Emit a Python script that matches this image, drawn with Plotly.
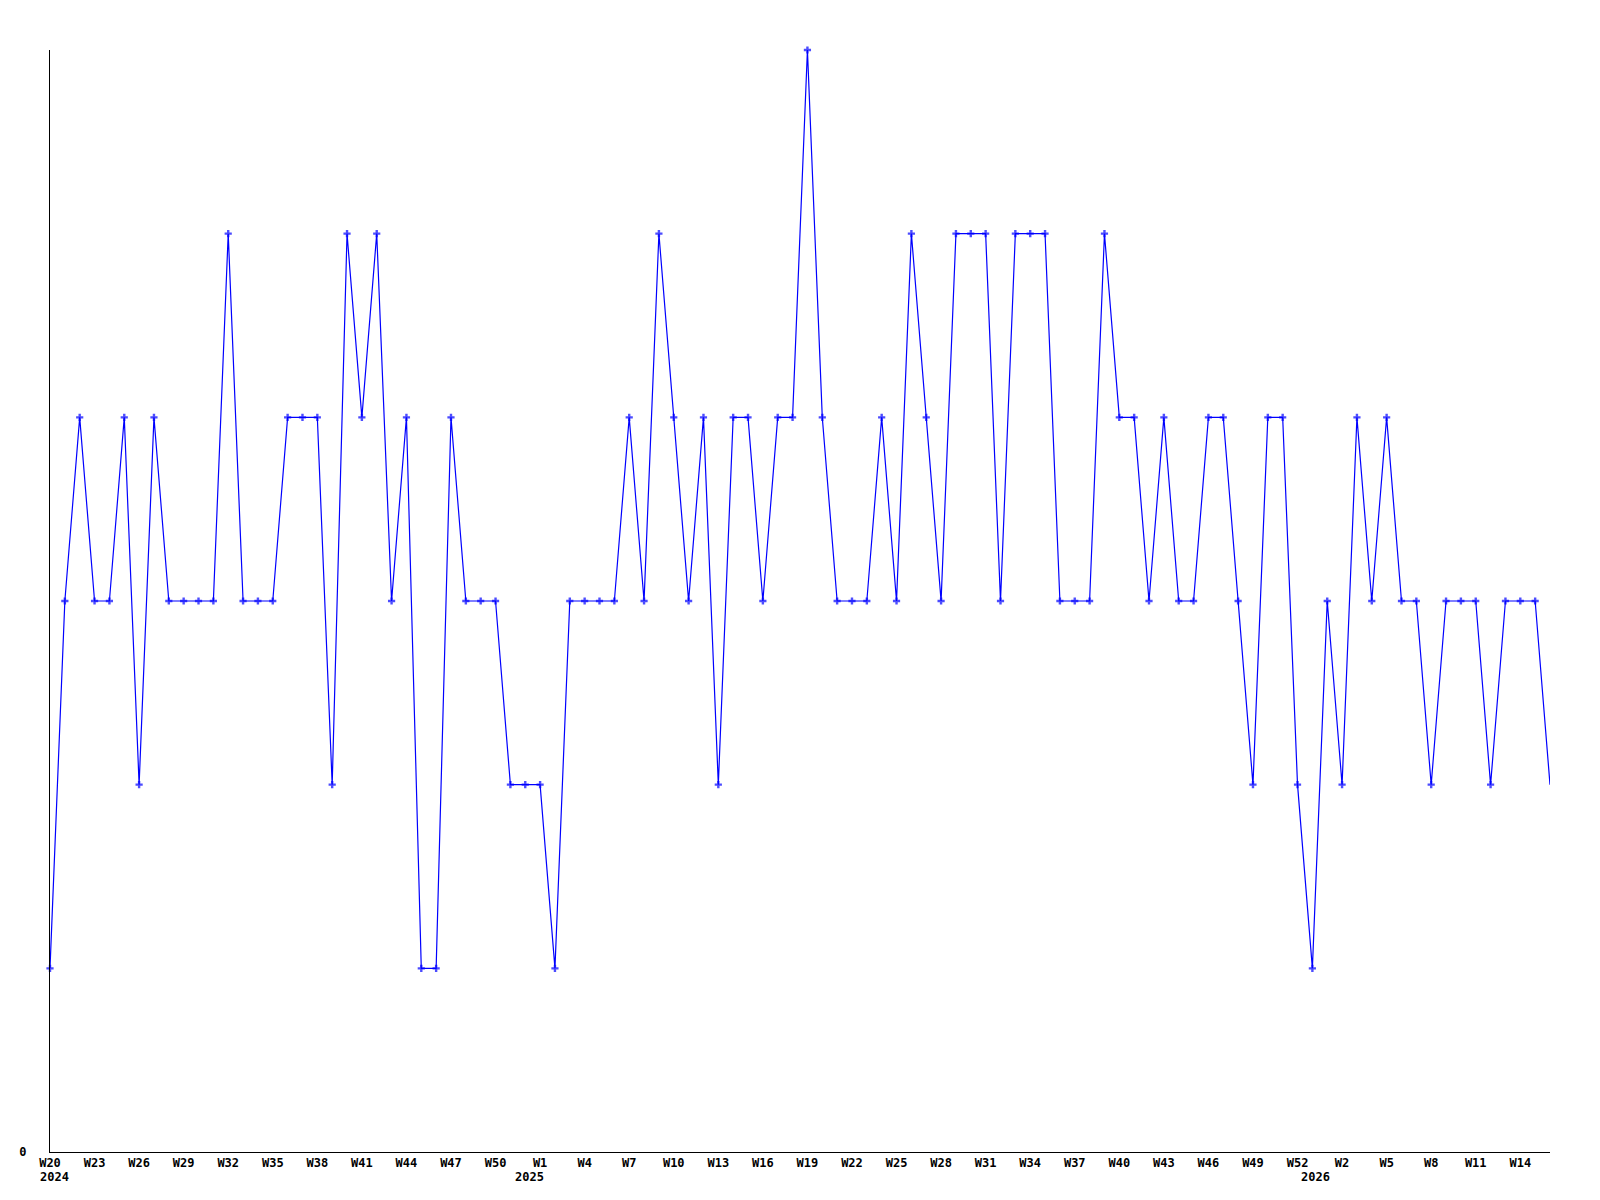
import plotly.graph_objects as go

# Weekly values, 2024-W20 .. 2026 (102 weeks)
values = [1, 3, 4, 3, 3, 4, 2, 4, 3, 3, 3, 3, 5, 3, 3, 3, 4, 4, 4, 2,
          5, 4, 5, 3, 4, 1, 1, 4, 3, 3, 3, 2, 2, 2, 1, 3, 3, 3, 3, 4,
          3, 5, 4, 3, 4, 2, 4, 4, 3, 4, 4, 6, 4, 3, 3, 3, 4, 3, 5, 4,
          3, 5, 5, 5, 3, 5, 5, 5, 3, 3, 3, 5, 4, 4, 3, 4, 3, 3, 4, 4,
          3, 2, 4, 4, 2, 1, 3, 2, 4, 3, 4, 3, 3, 2, 3, 3, 3, 2, 3, 3,
          3, 2]

tick_labels = ["W20", "W23", "W26", "W29", "W32", "W35", "W38", "W41", "W44",
               "W47", "W50",
               "W1", "W4", "W7", "W10", "W13", "W16", "W19", "W22", "W25",
               "W28", "W31", "W34", "W37", "W40", "W43", "W46", "W49", "W52",
               "W2", "W5", "W8", "W11", "W14"]
tick_every = 3

year_labels = ["2024", "2025", "2026"]
year_start_index = [0, 33, 86]

x = list(range(len(values)))
tickvals = [i * tick_every for i in range(len(tick_labels))]

font = dict(family="DejaVu Sans Mono", size=12, color="black", weight="bold")

marker_sizes = [6] * (len(values) - 1) + [0]

fig = go.Figure()
fig.add_trace(go.Scatter(
    x=x, y=values, mode="lines+markers",
    line=dict(color="#0000ff", width=1.2),
    marker=dict(symbol="cross", size=marker_sizes, color="#0000ff",
                line=dict(width=0)),
    cliponaxis=False,
    showlegend=False,
    hoverinfo="skip",
))

year_shift = [4, -11, -12]
for lab, idx, sh in zip(year_labels, year_start_index, year_shift):
    fig.add_annotation(x=idx, y=0, xref="x", yref="paper", text=lab,
                       showarrow=False, xanchor="center", yanchor="top",
                       yshift=-16, xshift=sh, font=font)

# page body adds an 8px offset; margins compensate
fig.update_layout(
    width=1600, height=1200,
    margin=dict(l=42, r=58, t=42, b=56),
    paper_bgcolor="white", plot_bgcolor="white",
    font=font,
)
fig.update_xaxes(
    range=[0, len(values) - 1], showgrid=False, zeroline=False,
    showline=True, linecolor="black", linewidth=1,
    tickmode="array", tickvals=tickvals, ticktext=tick_labels,
    ticks="", tickfont=font,
)
fig.update_yaxes(
    range=[0, 6], showgrid=False, zeroline=False,
    showline=True, linecolor="black", linewidth=1,
    tickmode="array", tickvals=[0], ticktext=["0"],
    ticks="", tickfont=font, ticklabelstandoff=20,
)

fig.write_html("out.html")
